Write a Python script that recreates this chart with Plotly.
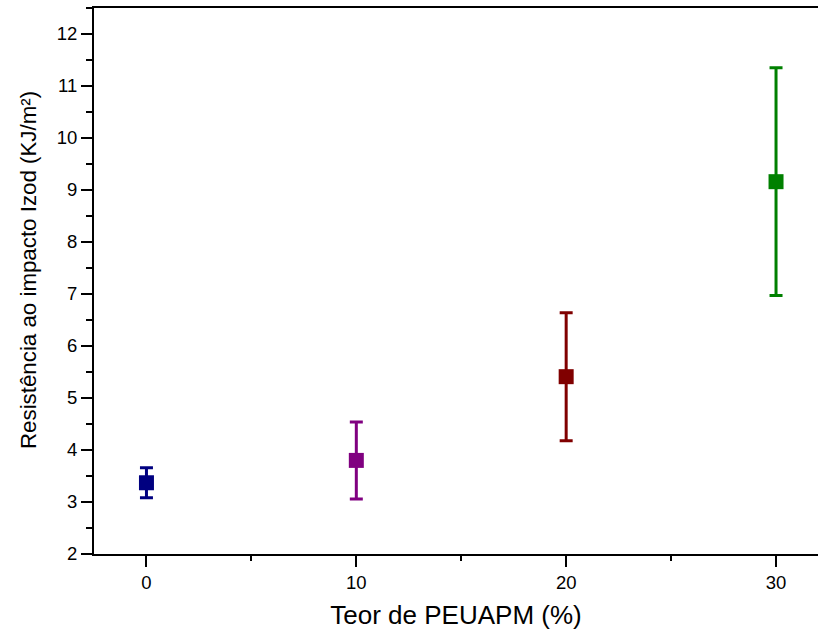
import plotly.graph_objects as go

teor = [0, 10, 20, 30]
resist = [3.37, 3.80, 5.41, 9.16]
erro = [0.29, 0.74, 1.23, 2.19]
cores = ["#000080", "#800080", "#800000", "#008000"]

fig = go.Figure()
for x, y, e, c in zip(teor, resist, erro, cores):
    fig.add_trace(go.Scatter(
        x=[x], y=[y], mode="markers",
        marker=dict(symbol="square", size=15, color=c),
        error_y=dict(type="data", array=[e], color=c, thickness=3, width=6.5),
        showlegend=False,
    ))

font = "Liberation Sans, Arial, sans-serif"
fig.update_layout(
    width=818, height=636,
    margin=dict(l=94, r=0, t=8, b=82),
    plot_bgcolor="white", paper_bgcolor="white",
    font=dict(family=font, color="black"),
)
fig.update_xaxes(
    range=[-2.5, 32], tickvals=[0, 10, 20, 30],
    showline=True, linecolor="black", linewidth=2, mirror=True,
    ticks="outside", ticklen=11, tickwidth=1.5, tickcolor="black",
    minor=dict(ticks="outside", ticklen=5, tickwidth=1.5, tickcolor="black", dtick=5, tick0=0),
    showgrid=False, zeroline=False,
    tickfont=dict(size=18.5),
    title=dict(text="Teor de PEUAPM (%)", font=dict(size=26), standoff=14),
)
fig.update_yaxes(
    range=[2, 12.5], dtick=1, tick0=2,
    showline=True, linecolor="black", linewidth=2, mirror=False,
    ticks="outside", ticklen=11, tickwidth=1.5, tickcolor="black",
    minor=dict(ticks="outside", ticklen=6, tickwidth=1.5, tickcolor="black", dtick=0.5, tick0=2),
    showgrid=False, zeroline=False,
    tickfont=dict(size=18.5),
)
fig.add_annotation(
    text="Resistência ao impacto Izod (KJ/m²)",
    textangle=-90, showarrow=False,
    xref="paper", yref="paper", x=-0.0, xshift=-66, xanchor="center",
    y=0.5, yshift=11, yanchor="middle",
    font=dict(size=22.3, family=font, color="black"),
)
fig.write_html(
    "out.html",
    config={"displayModeBar": False},
    post_script="document.body.style.margin='0';document.body.style.overflow='hidden';",
)
